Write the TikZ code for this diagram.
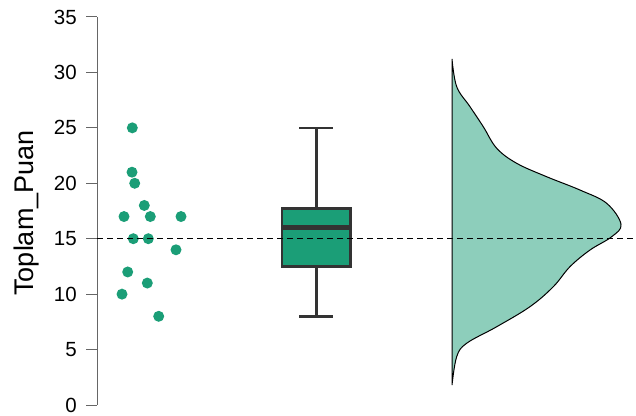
\documentclass[tikz,border=0pt]{standalone}
\usepackage{fontspec}
\setmainfont{Liberation Sans}
\definecolor{jgreen}{HTML}{1B9E77}
\definecolor{jlight}{HTML}{8DCEBB}
\definecolor{jdark}{HTML}{333333}
\definecolor{axisgray}{HTML}{666666}

\begin{document}
\begin{tikzpicture}[x=1pt,y=11.086pt,
    tick/.style={axisgray, line width=1pt},
    ticklabel/.style={anchor=east, inner sep=0pt, font=\fontsize{20.5}{24}\selectfont},
    dot/.style={fill=jgreen},
    boxline/.style={jdark, line width=2.6pt},
    refline/.style={black, line width=1.3pt, dash pattern=on 6pt off 4pt},
]
    \useasboundingbox (0,-0.902) rectangle (636,36.533);
    \def\Mid{316.3}
    \def\Cap{17}
    \def\Base{452}
    % 坐标轴和刻度
    \draw[tick] (97,0) -- (97,35);
    \foreach \v[count=\n] in {0,5,...,35}{
        \draw[tick] (86,\v) -- (97,\v);
        \node[ticklabel] (tick\n) at (77,\v) {\v};
    }
    \node[rotate=90, inner sep=0pt, font=\fontsize{27}{32}\selectfont] (ylabel) at (27,17.32) {Toplam\_Puan};
    \foreach \x/\v in {132.3/25, 132/21, 134.7/20, 144.3/18, 124/17, 150.3/17, 181/17,
        133.3/15, 148.3/15, 176/14, 127.7/12, 147.3/11, 122/10, 158.7/8}{
            \fill[dot] (\x,\v) circle[radius=5.5pt];
        }
    \draw[boxline] (\Mid,17.75) -- (\Mid,25) (\Mid-\Cap,25) -- (\Mid+\Cap,25);
    \draw[boxline] (\Mid,12.5) -- (\Mid,8) (\Mid-\Cap,8) -- (\Mid+\Cap,8);
    \filldraw[boxline, fill=jgreen] (282,12.5) rectangle (350.7,17.75);
    \draw[jdark, line width=4.5pt] (283,16) -- (349.7,16);
    \filldraw[fill=jlight, draw=black, line width=1pt] plot[smooth, tension=0.6] coordinates {
        (\Base,31.21) (456.7,28.71) (470,26.91) (483.3,25.10) (496.7,23.16) (516.7,21.80)
        (546.7,20.59) (580,19.39) (606.7,18.19) (621,16.30) (611.7,15.18) (590,13.98)
        (570,12.48) (553.3,10.67) (530,8.87) (496.7,7.06) (466.7,5.57) (456.7,4.36) (\Base,1.80)
    } -- cycle;
    \draw[refline] (97,15) -- (636,15);
\end{tikzpicture}
\end{document}
